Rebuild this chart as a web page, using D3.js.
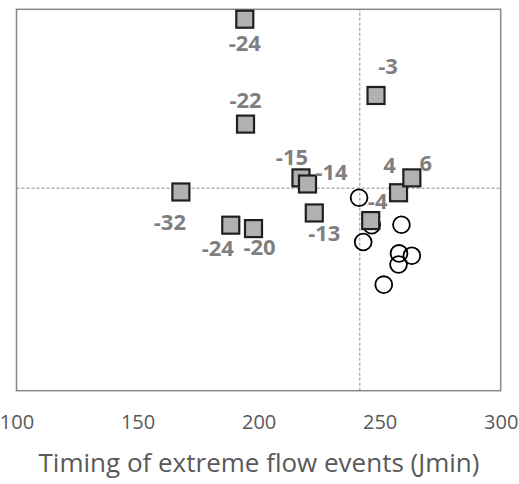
<!DOCTYPE html>
<html>
<head>
<meta charset="utf-8">
<script src="https://cdn.jsdelivr.net/npm/d3@7"></script>
<style>
  body { margin: 0; background: #fff; }
  svg { display: block; }
</style>
</head>
<body>
<svg width="519" height="484"></svg>
<script>
const width = 519;
const height = 484;
const margin = { top: 9.3, right: 18.3, bottom: 93.3, left: 16.5 };

// squares: timing (Jmin), y position (no axis shown), label
const sqX = [194.3, 194.6, 167.9, 188.5, 197.9, 217.5, 220.2, 223.0, 248.5, 257.8, 263.3, 246.3];
const sqY = [97.4, 69.9, 52.1, 43.4, 42.5, 55.8, 54.2, 46.6, 77.4, 51.9, 55.8, 44.6];
const sqLabels = ["-24", "-22", "-32", "-24", "-20", "-15", "-14", "-13", "-3", "4", "6", "-4"];

// open circles
const cX = [241.5, 246.7, 243.2, 259.0, 258.0, 263.3, 257.8, 251.7];
const cY = [50.6, 43.4, 39.0, 43.5, 36.0, 35.4, 33.1, 27.8];

// reference lines
const refX = 241.8;
const refY = 53.1;

const xTicks = [100, 150, 200, 250, 300];

// label placement relative to the square (px)
const labelOffsets = [[0, 24], [0, -24], [-11, 30], [-13, 23], [6, 18], [-9, -21],
  [24, -12], [10, 20], [12, -29], [-9, -28], [14, -15], [7, -20]];

const x = d3.scaleLinear().domain([100, 300]).range([margin.left, width - margin.right]);
const y = d3.scaleLinear().domain([0, 100]).range([height - margin.bottom, margin.top]);

const svg = d3.select("svg");

svg.append("rect")
  .attr("x", x(100))
  .attr("y", y(100))
  .attr("width", x(300) - x(100))
  .attr("height", y(0) - y(100))
  .attr("fill", "none")
  .attr("stroke", "#898989")
  .attr("stroke-width", 1.5);

const ref = svg.append("g")
  .attr("stroke", "#8c8c8c")
  .attr("stroke-width", 1)
  .attr("stroke-dasharray", "3,2");
ref.append("line")
  .attr("x1", x(100)).attr("x2", x(300))
  .attr("y1", y(refY)).attr("y2", y(refY));
ref.append("line")
  .attr("x1", x(refX)).attr("x2", x(refX))
  .attr("y1", y(0)).attr("y2", y(100));

svg.append("g")
  .selectAll("circle")
  .data(cX)
  .join("circle")
  .attr("cx", (d) => x(d))
  .attr("cy", (d, i) => y(cY[i]))
  .attr("r", 8.4)
  .attr("fill", "none")
  .attr("stroke", "#000")
  .attr("stroke-width", 1.8);

const s = 17;
svg.append("g")
  .selectAll("rect")
  .data(sqX)
  .join("rect")
  .attr("x", (d) => x(d) - s / 2)
  .attr("y", (d, i) => y(sqY[i]) - s / 2)
  .attr("width", s)
  .attr("height", s)
  .attr("fill", "#b3b0b0")
  .attr("stroke", "#1f1f1f")
  .attr("stroke-width", 2.2);

svg.append("g")
  .selectAll("text")
  .data(sqLabels)
  .join("text")
  .attr("x", (d, i) => x(sqX[i]) + labelOffsets[i][0])
  .attr("y", (d, i) => y(sqY[i]) + labelOffsets[i][1])
  .attr("dy", "0.36em")
  .attr("text-anchor", "middle")
  .attr("font-family", "'Open Sans', sans-serif")
  .attr("font-weight", "bold")
  .attr("font-size", 22)
  .attr("fill", "#7f7f7f")
  .text((d) => d);

const xAxis = svg.append("g")
  .attr("transform", `translate(0,${y(0)})`)
  .call(d3.axisBottom(x).tickValues(xTicks).tickSize(0).tickPadding(24));
xAxis.select(".domain").remove();
xAxis.selectAll("text")
  .attr("font-family", "'Open Sans', sans-serif")
  .attr("font-size", 20)
  .attr("fill", "#595959");

svg.append("text")
  .attr("x", 259)
  .attr("y", 463)
  .attr("dy", "0.35em")
  .attr("text-anchor", "middle")
  .attr("font-family", "'Open Sans', sans-serif")
  .attr("font-size", 26)
  .attr("fill", "#595959")
  .text("Timing of extreme flow events (Jmin)");
</script>
</body>
</html>
